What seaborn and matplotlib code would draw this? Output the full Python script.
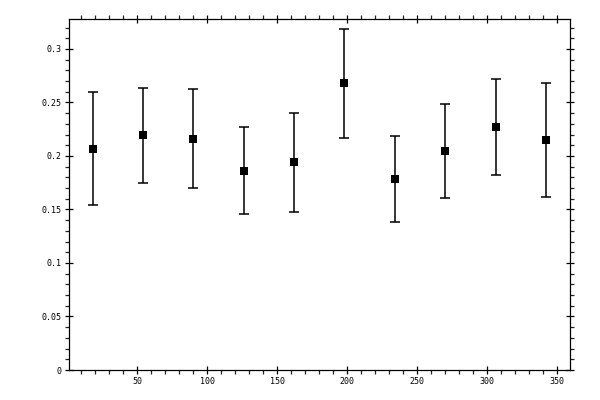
import matplotlib
matplotlib.use("Agg")
import matplotlib.pyplot as plt
import seaborn as sns
import pandas as pd
from matplotlib.ticker import MultipleLocator, FormatStrFormatter

# data
angle = [18, 54, 90, 126, 162, 198, 234, 270, 306, 342]
value = [0.2066, 0.2197, 0.2159, 0.1859, 0.1944, 0.2678, 0.1784, 0.2047, 0.2272, 0.2150]
lower = [0.1540, 0.1747, 0.1700, 0.1456, 0.1475, 0.2169, 0.1381, 0.1606, 0.1822, 0.1615]
upper = [0.2600, 0.2638, 0.2629, 0.2268, 0.2400, 0.3188, 0.2188, 0.2488, 0.2722, 0.2685]

df = pd.DataFrame({"angle": angle, "value": value, "lower": lower, "upper": upper})

sns.set_style("ticks")
plt.rcParams['font.family'] = ['DejaVu Sans Mono', 'DejaVu Sans']

fig = plt.figure(figsize=(6, 4), dpi=100)
ax = fig.add_axes([69/600, 1 - 370/400, (570-69)/600, (370-19)/400])

yerr = [df["value"] - df["lower"], df["upper"] - df["value"]]
ax.errorbar(df["angle"], df["value"], yerr=yerr, fmt="none", ecolor="black",
            elinewidth=1.1, capsize=3.6, capthick=1.1, zorder=2)
sns.scatterplot(data=df, x="angle", y="value", marker="s", s=28, color="black",
                edgecolor="black", linewidth=0, ax=ax, zorder=3)

ax.set_xlim(1.2, 359.1)
ax.set_ylim(0, 0.328)
ax.xaxis.set_major_locator(MultipleLocator(50))
ax.xaxis.set_minor_locator(MultipleLocator(10))
ax.yaxis.set_major_locator(MultipleLocator(0.05))
ax.yaxis.set_minor_locator(MultipleLocator(0.01))
ax.yaxis.set_major_formatter(FormatStrFormatter("%g"))
ax.xaxis.set_major_formatter(FormatStrFormatter("%g"))

ax.set_xlabel("")
ax.set_ylabel("")
for sp in ax.spines.values():
    sp.set_visible(True)
    sp.set_linewidth(0.9)
    sp.set_color("black")

ax.tick_params(which="major", direction="inout", length=5.8, width=0.9,
               top=True, right=True, labelsize=6, pad=2.5, colors="black")
ax.tick_params(which="minor", direction="out", length=2.9, width=0.9,
               top=True, right=True)
ax.xaxis.set_tick_params(labelbottom=True, labeltop=False)
ax.yaxis.set_tick_params(labelleft=True, labelright=False)

fig.savefig("out.png", dpi=100, facecolor="white")
